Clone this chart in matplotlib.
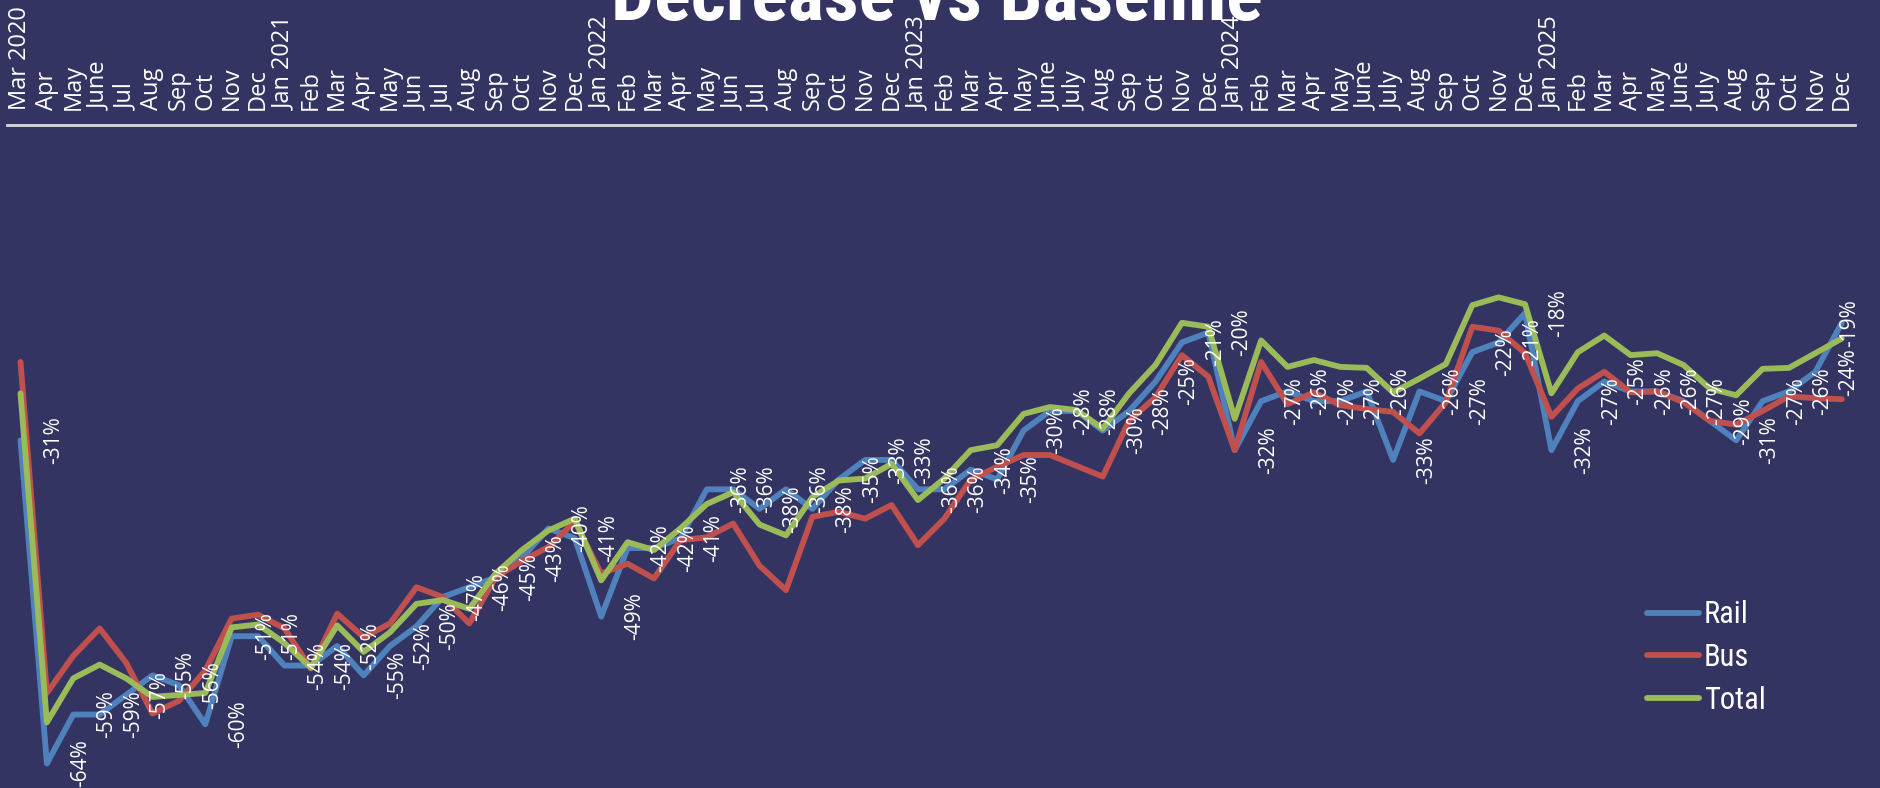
import matplotlib.pyplot as plt

months = ["Mar 2020", "Apr", "May", "June", "Jul", "Aug", "Sep", "Oct", "Nov", "Dec",
          "Jan 2021", "Feb", "Mar", "Apr", "May", "Jun", "Jul", "Aug", "Sep", "Oct", "Nov", "Dec",
          "Jan 2022", "Feb", "Mar", "Apr", "May", "Jun", "Jul", "Aug", "Sep", "Oct", "Nov", "Dec",
          "Jan 2023", "Feb", "Mar", "Apr", "May", "June", "July", "Aug", "Sep", "Oct", "Nov", "Dec",
          "Jan 2024", "Feb", "Mar", "Apr", "May", "June", "July", "Aug", "Sep", "Oct", "Nov", "Dec",
          "Jan 2025", "Feb", "Mar", "Apr", "May", "June", "July", "Aug", "Sep", "Oct", "Nov", "Dec"]

rail = [-31, -64, -59, -59, -57, -55, -56, -60, -51, -51,
        -54, -54, -52, -55, -52, -50, -47, -46, -45, -43,
        -40, -41, -49, -42, -42, -41, -36, -36, -38, -36,
        -38, -35, -33, -33, -36, -36, -34, -35, -30, -28,
        -28, -30, -28, -25, -21, -20, -32, -27, -26, -27,
        -27, -26, -33, -26, -27, -22, -21, -18, -32, -27,
        -25, -26, -26, -27, -29, -31, -27, -26, -24, -19]

bus = [-23.0, -56.8, -53.0, -50.2, -53.7, -58.9, -57.6, -54.5, -49.2, -48.8,
       -50.2, -54.3, -48.7, -51.1, -49.7, -46.0, -47.0, -49.7, -45.0, -43.3,
       -41.9, -39.3, -44.6, -43.6, -45.1, -41.2, -40.9, -39.5, -43.8, -46.3,
       -38.8, -38.3, -39.0, -37.6, -41.7, -39.0, -35.0, -33.7, -32.5, -32.5,
       -33.6, -34.7, -29.0, -26.6, -22.3, -24.5, -32.0, -23.0, -27.3, -26.1,
       -27.4, -27.8, -28.1, -30.3, -27.1, -19.4, -19.8, -22.1, -28.6, -25.7,
       -24.0, -26.1, -26.0, -27.1, -29.0, -29.4, -28.0, -26.5, -26.7, -26.8]

total = [-26.2, -59.8, -55.3, -53.9, -55.3, -57.2, -57.0, -56.8, -50.1, -49.8,
         -51.7, -54.2, -49.9, -52.6, -50.6, -47.7, -47.3, -48.2, -44.6, -42.2,
         -40.2, -39.0, -45.3, -41.4, -42.2, -40.0, -37.5, -36.3, -39.6, -40.7,
         -36.8, -35.1, -34.9, -33.4, -37.1, -34.9, -32.0, -31.5, -28.3, -27.6,
         -27.9, -29.8, -26.2, -23.3, -19.0, -19.4, -28.8, -20.8, -23.5, -22.8,
         -23.5, -23.6, -26.1, -24.7, -23.2, -17.2, -16.4, -17.1, -26.2, -22.0,
         -20.3, -22.3, -22.1, -23.3, -25.7, -26.4, -23.7, -23.6, -22.1, -20.6]

bg = '#343463'
W, H = 1880, 788

fig = plt.figure(figsize=(W / 100, H / 100), dpi=100, facecolor=bg)
ax = fig.add_axes([7.3 / W, 0, (1855 - 7.3) / W, (H - 125) / H])
ax.set_facecolor(bg)

x = list(range(len(months)))
ax.plot(x, rail, color='#4F81BD', lw=4.2, label='Rail', solid_joinstyle='round', solid_capstyle='round')
ax.plot(x, bus, color='#C0504D', lw=4.2, label='Bus', solid_joinstyle='round', solid_capstyle='round')
ax.plot(x, total, color='#9BBB59', lw=4.2, label='Total', solid_joinstyle='round', solid_capstyle='round')

# data labels (rail values), sitting to the right of each point
for i, v in enumerate(rail):
    ax.text(min(i + 1.27, 69.3), v, f"{v}%", rotation=90, ha='center', va='center',
            color='white', fontsize=15, family='Open Sans')

ax.set_xlim(-0.5, 69.5)
ax.set_ylim(-66.5, 1.2)
ax.xaxis.tick_top()
ax.set_xticks(x)
ax.set_xticklabels(months, rotation=90, family='Open Sans', fontsize=17)
ax.tick_params(axis='x', length=0, pad=11, colors='white')
ax.set_yticks([])
for s in ['left', 'right', 'bottom']:
    ax.spines[s].set_visible(False)
ax.spines['top'].set_color('#D9D9D9')
ax.spines['top'].set_linewidth(2)

leg = ax.legend(loc='upper left', bbox_to_anchor=(1632 / W, 1 - 585 / H), bbox_transform=fig.transFigure,
                frameon=False, borderpad=0, handlelength=1.7, handletextpad=0.15, labelspacing=0.45,
                prop={'family': ['Roboto Condensed', 'DejaVu Sans'], 'size': 22})
for t in leg.get_texts():
    t.set_color('white')

fig.text(937 / W, 1 - 20 / H, 'Decrease vs Baseline', ha='center', va='baseline', color='white',
         fontsize=55, weight='bold', family=['Roboto Condensed', 'DejaVu Sans'])

fig.savefig('out.png', dpi=100, facecolor=bg)
